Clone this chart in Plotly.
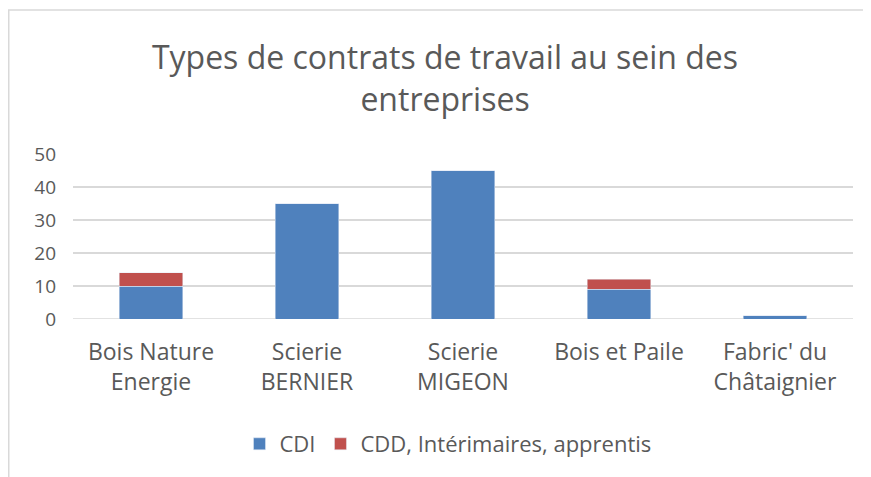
import plotly.graph_objects as go

categories = ["Bois Nature<br>Energie", "Scierie<br>BERNIER", "Scierie<br>MIGEON", "Bois et Paile", "Fabric' du<br>Châtaignier"]
cdi = [10, 35, 45, 9, 1]
cdd = [4, 0, 0, 3, 0]
y_ticks = [0, 10, 20, 30, 40, 50]

FONT = "Open Sans, Liberation Sans, sans-serif"
GREY = "#595959"

fig = go.Figure()
fig.add_trace(go.Bar(x=categories, y=cdi, name="CDI", marker=dict(color="#4F81BD")))
fig.add_trace(go.Bar(x=categories, y=cdd, name="CDD, Intérimaires, apprentis", marker=dict(color="#C0504D")))

# page body has an 8px default margin, so the figure is slightly smaller
W, H = 863, 469
L, R, T, B = 65, 18, 146, 158
pw, ph = W - L - R, H - T - B

fig.update_layout(
    width=W, height=H,
    barmode="stack",
    bargap=0.596,
    plot_bgcolor="white", paper_bgcolor="white",
    margin=dict(l=L, r=R, t=T, b=B),
    font=dict(family=FONT, color=GREY, size=18),
    title=dict(text="Types de contrats de travail au sein des<br>entreprises",
               x=437 / W, xanchor="center", xref="container",
               y=1 - 61 / H, yanchor="middle", yref="container",
               font=dict(size=32, color=GREY, family=FONT)),
    showlegend=True,
    legend=dict(orientation="h", x=(440 - L) / pw, xanchor="center",
                y=-(436 - (H - B)) / ph, yanchor="middle",
                font=dict(size=22, color=GREY), itemwidth=30, traceorder="normal"),
    xaxis=dict(showline=False, ticks="", tickfont=dict(size=23, color=GREY),
               ticklabelstandoff=17),
    yaxis=dict(range=[0, 50], tickvals=y_ticks, showgrid=True, gridcolor="#D9D9D9",
               gridwidth=1.5, zeroline=False, showline=False, ticks="",
               tickfont=dict(size=19, color=GREY), ticklabelstandoff=16),
    shapes=[dict(type="rect", xref="paper", yref="paper",
                 x0=(0.75 - L) / pw, x1=(858 - L) / pw,
                 y0=(H - B - 490) / ph, y1=(H - B - 2) / ph,
                 line=dict(color="#D9D9D9", width=1.5), fillcolor="rgba(0,0,0,0)",
                 layer="below")],
)
fig.add_shape(type="line", xref="paper", yref="y", x0=0, x1=1, y0=0, y1=0,
              line=dict(color="#D9D9D9", width=1.5), layer="below")

fig.write_html("out.html")
